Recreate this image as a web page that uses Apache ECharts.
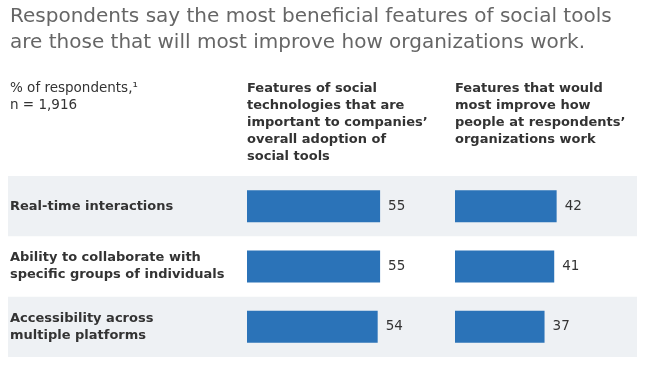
<!DOCTYPE html>
<html><head><meta charset="utf-8">
<script src="https://cdn.jsdelivr.net/npm/echarts@6/dist/echarts.min.js"></script>
<style>html,body{margin:0;padding:0;background:#fff}#c{width:645px;height:365px}</style>
</head><body><div id="c"></div>
<script>
const categories = ['Real-time interactions', 'Ability to collaborate with\nspecific groups of individuals', 'Accessibility across\nmultiple platforms'];
const adoptionValues = [55, 55, 54];
const improveValues = [42, 41, 37];
const titleText = 'Respondents say the most beneficial features of social tools\nare those that will most improve how organizations work.';
const noteText = '% of respondents,\u00B9\nn = 1,916';
const header1 = 'Features of social\ntechnologies that are\nimportant to companies\u2019\noverall adoption of\nsocial tools';
const header2 = 'Features that would\nmost improve how\npeople at respondents\u2019\norganizations work';

const font = 'DejaVu Sans, Liberation Sans, Arial, sans-serif';
const chart = echarts.init(document.getElementById('c'), null, {renderer: 'canvas'});
const gridTop = 176, gridH = 181;
const barColor = '#2b73b8';
const scaleMax = 60, pxPerUnit = 2.42;
chart.setOption({
  animation: false,
  textStyle: {fontFamily: font},
  title: [
    {text: titleText, left: 10, top: 4, padding: 0, textStyle: {fontFamily: font, fontSize: 20, fontWeight: 'normal', color: '#666', lineHeight: 26}},
    {text: noteText, left: 10, top: 80, padding: 0, textStyle: {fontFamily: font, fontSize: 13.5, fontWeight: 'normal', color: '#333', lineHeight: 17}},
    {text: header1, left: 247, top: 80, padding: 0, textStyle: {fontFamily: font, fontSize: 13, fontWeight: 'bold', color: '#333', lineHeight: 17}},
    {text: header2, left: 455, top: 80, padding: 0, textStyle: {fontFamily: font, fontSize: 13, fontWeight: 'bold', color: '#333', lineHeight: 17}}
  ],
  grid: [
    {left: 8, right: 8, top: gridTop, height: gridH},
    {left: 247, width: scaleMax * pxPerUnit, top: gridTop, height: gridH},
    {left: 455, width: scaleMax * pxPerUnit, top: gridTop, height: gridH}
  ],
  xAxis: [
    {gridIndex: 0, type: 'value', show: false, min: 0, max: 1},
    {gridIndex: 1, type: 'value', show: false, min: 0, max: scaleMax},
    {gridIndex: 2, type: 'value', show: false, min: 0, max: scaleMax}
  ],
  yAxis: [
    {gridIndex: 0, type: 'category', data: categories, inverse: true,
      axisLine: {show: false}, axisTick: {show: false}, splitLine: {show: false},
      splitArea: {show: true, areaStyle: {color: ['#eef1f4', 'rgba(255,255,255,0)']}},
      axisLabel: {inside: true, margin: 2, fontFamily: font, fontSize: 13, fontWeight: 'bold', color: '#333', lineHeight: 17}},
    {gridIndex: 1, type: 'category', data: categories, inverse: true, show: false},
    {gridIndex: 2, type: 'category', data: categories, inverse: true, show: false}
  ],
  series: [
    {type: 'bar', xAxisIndex: 1, yAxisIndex: 1, data: adoptionValues, barWidth: 32,
      itemStyle: {color: barColor},
      label: {show: true, position: 'right', distance: 8, fontFamily: font, fontSize: 13.5, color: '#333'}},
    {type: 'bar', xAxisIndex: 2, yAxisIndex: 2, data: improveValues, barWidth: 32,
      itemStyle: {color: barColor},
      label: {show: true, position: 'right', distance: 8, fontFamily: font, fontSize: 13.5, color: '#333'}}
  ]
});
</script></body></html>
